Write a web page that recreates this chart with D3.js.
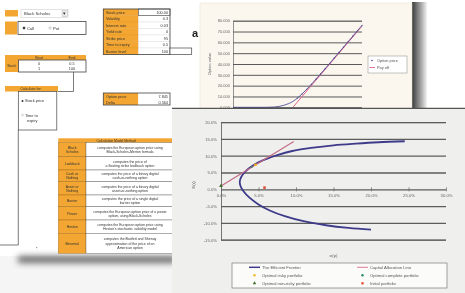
<!DOCTYPE html>
<html>
<head>
<meta charset="utf-8">
<script src="https://cdn.jsdelivr.net/npm/d3@7"></script>
<style>
html, body { margin: 0; padding: 0; background: #f5f5f5; }
svg { display: block; font-family: "Liberation Sans", Arial, sans-serif; }
</style>
</head>
<body>
<svg id="chart" width="465" height="293"></svg>
<script>
// ---- spreadsheet (back sheet) ----
var modelChoice = 'Black Scholes'
var optionTypes = ['Call', 'Put']
var rangeHeader = ['Start', 'End']
var rangeRowLabel = 'Stock'
var rangeStart = ['0', '1']
var rangeEnd = ['0.5', '100']
var calcForOptions = ['Stock price', 'Time to', 'expiry']
var paramLabels = ['Stock price', 'Volatility', 'Interest rate', 'Yield rate', 'Strike price', 'Time to expiry', 'Barrier level']
var paramValues = ['100.00', '0.3', '0.03', '0', '95', '0.5', '100']
var resultLabels = ['Option price', 'Delta']
var resultValues = ['7.845', '0.564']
var modelNames = [['Black', 'Scholes'], ['Lookback'], ['Cash or', 'Nothing'], ['Asset or', 'Nothing'], ['Barrier'], ['Power'], ['Heston'], ['Binomial']]
var modelDescriptions = [
    ['computes the European option price using', 'Black-Scholes-Merton formula'],
    ['computes the price of', 'a floating strike lookback option'],
    ['computes the price of a binary digital', 'cash-or-nothing option'],
    ['computes the price of a binary digital', 'asset-or-nothing option'],
    ['computes the price of a single digital', 'barrier option'],
    ['computes the European option price of a power', 'option, using Black-Scholes'],
    ['computes the European option price using', "Heston's stochastic volatility model"],
    ['computes the Bartlett and Shenoy', 'approximation of the price of an', 'American option']
]

// ---- top chart: option value vs stock price ----
var stockPrice = [0, 5, 10, 15, 20, 25, 30, 35, 40, 45, 50, 55, 60, 65, 70, 75, 80, 85, 90, 95, 100, 105, 110, 115, 120, 125, 130, 135, 140]
var optionPrice = [0, 0, 0, 0, 0, 0, 0, 0, 0.1, 0.3, 0.8, 1.8, 3.3, 5.4, 8.6, 12.4, 16.6, 21.2, 26.0, 30.8, 35.7, 40.7, 45.7, 50.7, 55.7, 60.7, 65.7, 70.7, 75.7]
var payoffStock = [65, 140]
var payoffValue = [0, 75]
var topTicks = [0, 10, 20, 30, 40, 50, 60, 70, 80]
var topLegend = ['Option price', 'Pay off']

// ---- front chart: efficient frontier ----
var frontierSd = [24.5, 21, 18, 15, 12, 9.5, 7.5, 6, 4.7, 3.7, 3.0, 2.6, 2.5, 2.6, 3.0, 3.8, 5.0, 6.5, 8.5, 11, 14, 17, 20]
var frontierRet = [14.3, 14.0, 13.6, 13.1, 12.3, 11.4, 10.2, 9.0, 7.7, 6.2, 4.7, 3.2, 2.2, 1.0, -0.6, -2.5, -4.5, -6.3, -8.0, -9.5, -10.7, -11.5, -12.0]
var calSd = [0, 9.7]
var calRet = [1.0, 14.2]
var portfolioNames = ['Optimal risky portfolio', 'Optimal complete portfolio', 'Optimal non-risky portfolio', 'Initial portfolio']
var portfolioSd = [4.6, 4.1, 0, 5.8]
var portfolioRet = [7.3, 6.6, 1.0, 0.5]
var sdTicks = [0, 5, 10, 15, 20, 25, 30]
var retTicks = [-15, -10, -5, 0, 5, 10, 15, 20]
var seriesNames = ['The Efficient Frontier', 'Capital Allocation Line']

var ORANGE = '#f3a631'
var svg = d3.select('#chart')
var defs = svg.append('defs')

defs.append('filter').attr('id', 'soft')
    .append('feGaussianBlur').attr('stdDeviation', 0.35)
defs.append('filter').attr('id', 'shadowBlur')
    .attr('x', '-20%').attr('y', '-100%').attr('width', '140%').attr('height', '300%')
    .append('feGaussianBlur').attr('stdDeviation', 3)

var rightShade = defs.append('linearGradient').attr('id', 'rightShade')
rightShade.append('stop').attr('offset', '0%').attr('stop-color', '#3a3a3a')
rightShade.append('stop').attr('offset', '45%').attr('stop-color', '#8a8a8a')
rightShade.append('stop').attr('offset', '100%').attr('stop-color', '#f3f3f3')

var root = svg.append('g').attr('filter', 'url(#soft)')

// ================= back sheet =================
root.append('rect').attr('x', 0).attr('y', 0).attr('width', 465).attr('height', 256).attr('fill', '#ffffff')
root.append('rect').attr('x', 18).attr('y', 256).attr('width', 158).attr('height', 7)
    .attr('fill', '#6a6a6a').attr('filter', 'url(#shadowBlur)')

var sheet = root.append('g').style('font-size', '4.2px').style('fill', '#333')

function cell(x, y, w, h, fill, stroke, sw) {
    return sheet.append('rect').attr('x', x).attr('y', y).attr('width', w).attr('height', h)
        .attr('fill', fill).attr('stroke', stroke || 'none').attr('stroke-width', sw || 0)
}
function label(x, y, t, anchor, size) {
    return sheet.append('text').attr('x', x).attr('y', y).text(t)
        .attr('text-anchor', anchor || 'start').style('font-size', (size || 4.2) + 'px')
}

// model dropdown
cell(5, 10, 13, 6.5, ORANGE)
cell(21, 9.5, 47, 8, '#fff', '#c8c8c8', 0.5)
label(24, 15.2, modelChoice)
cell(62, 10.5, 5.5, 6, '#eee', '#aaa', 0.4)
label(64.7, 15, '▾', 'middle', 4.5)

// call / put radio
cell(5, 21.5, 12, 13, ORANGE)
cell(18, 21.5, 68, 13, '#fff', '#444', 0.8)
optionTypes.forEach((t, i) => {
    sheet.append('circle').attr('cx', 24 + i * 26).attr('cy', 28).attr('r', 1.2)
        .attr('fill', i === 0 ? '#333' : '#fff').attr('stroke', '#666').attr('stroke-width', 0.3)
    label(27 + i * 26, 29.5, t)
})

// range table
cell(5, 55, 81, 5, ORANGE)
label(39, 59, rangeHeader[0], 'middle', 3.8)
label(72, 59, rangeHeader[1], 'middle', 3.8)
cell(5, 60, 13.5, 12, ORANGE)
label(11.7, 66.5, rangeRowLabel, 'middle', 3.6)
cell(18.5, 60, 67.5, 12, '#fff', '#444', 0.8)
rangeStart.forEach((v, i) => {
    label(39, 64.5 + i * 5, v, 'middle', 3.8)
    label(72, 64.5 + i * 5, rangeEnd[i], 'middle', 3.8)
})
sheet.append('path').attr('d', 'M73.5,72V91.5H58').attr('fill', 'none').attr('stroke', '#444').attr('stroke-width', 0.7)

// calculate-for box
cell(5, 86, 53, 5.5, ORANGE)
label(31, 90.2, 'Calculate for:', 'middle', 3.6)
cell(18.3, 91.5, 38.5, 38.5, '#fff', '#444', 0.7)
sheet.append('circle').attr('cx', 22.5).attr('cy', 101).attr('r', 1).attr('fill', '#333')
label(25, 102.3, calcForOptions[0], 'start', 3.9)
sheet.append('circle').attr('cx', 22.5).attr('cy', 115).attr('r', 1).attr('fill', '#fff').attr('stroke', '#888').attr('stroke-width', 0.3)
label(25, 116.5, calcForOptions[1], 'start', 3.9)
label(27, 122, calcForOptions[2], 'start', 3.9)
sheet.append('path').attr('d', 'M18.3,130V245H0').attr('fill', 'none').attr('stroke', '#444').attr('stroke-width', 0.7)
label(36.7, 249.5, '*', 'middle', 4)

// parameter table
var rowH = 6.5
paramLabels.forEach((t, i) => {
    cell(103.3, 9 + i * rowH, 35, rowH, ORANGE, '#d88a1a', 0.2)
    cell(138.3, 9 + i * rowH, 31.7, rowH, '#fff', '#bbb', 0.2)
    label(106, 13.8 + i * rowH, t, 'start', 3.8)
    label(168, 13.8 + i * rowH, paramValues[i], 'end', 3.8)
})
cell(103.3, 9, 66.7, rowH * paramLabels.length, 'none', '#444', 0.8)
cell(138.3, 9, 31.7, rowH, 'none', '#444', 0.6)
cell(170, 9 + rowH * 6, 21.7, rowH, '#fff', '#444', 0.7)

// result table
resultLabels.forEach((t, i) => {
    cell(103.3, 93 + i * 6, 35, 6, ORANGE)
    cell(138.3, 93 + i * 6, 31.7, 6, '#fff')
    label(106, 97.5 + i * 6, t, 'start', 3.8)
    label(168, 97.5 + i * 6, resultValues[i], 'end', 3.8)
})
cell(103.3, 93, 66.7, 12, 'none', '#444', 0.8)

// model description table
var rowBounds = [142.7, 156.7, 170, 181.7, 195, 206.7, 220, 233.3, 253.3]
cell(58.3, 138.3, 116, 4.4, ORANGE)
label(116, 141.8, 'Calculation Model Method', 'middle', 3.4)
modelNames.forEach((names, i) => {
    var y0 = rowBounds[i], y1 = rowBounds[i + 1], mid = (y0 + y1) / 2
    cell(58.3, y0, 27.7, y1 - y0, ORANGE, '#9a6a20', 0.4)
    cell(86, y0, 88, y1 - y0, '#fff', '#555', 0.4)
    names.forEach((n, j) => label(72.2, mid + 1.4 + (j - (names.length - 1) / 2) * 4, n, 'middle', 3.5))
    var desc = modelDescriptions[i]
    desc.forEach((d, j) => label(130, mid + 1.3 + (j - (desc.length - 1) / 2) * 4.2, d, 'middle', 3.5))
})

// bold glyph partly hidden behind the top chart
label(192, 36.5, 'a', 'start', 11).style('font-weight', 'bold').style('fill', '#222')

// ================= middle: option value chart =================
var topG = root.append('g')
topG.append('rect').attr('x', 412).attr('y', 2).attr('width', 15).attr('height', 107).attr('fill', 'url(#rightShade)')
topG.append('rect').attr('x', 200).attr('y', 3).attr('width', 212).attr('height', 106)
    .attr('fill', '#fbf7ee').attr('stroke', '#e4ddcc').attr('stroke-width', 0.5)

var tx = d3.scaleLinear().domain([0, 140]).range([233, 362])
var ty = d3.scaleLinear().domain([0, 80]).range([107.3, 20.7])

var tAxis = topG.append('g').attr('transform', 'translate(233,0)')
    .call(d3.axisLeft(ty).tickValues(topTicks).tickSize(-129).tickPadding(3).tickFormat(d3.format('.3f')))
tAxis.select('.domain').attr('stroke', '#777').attr('stroke-width', 0.8)
tAxis.selectAll('.tick line').attr('stroke', '#5a5a5a').attr('stroke-width', 1)
tAxis.selectAll('.tick text').style('font-size', '4px').attr('fill', '#666')
    .style('font-family', '"Liberation Sans", Arial, sans-serif')

topG.append('text').attr('transform', 'translate(211,64) rotate(-90)')
    .attr('text-anchor', 'middle').style('font-size', '4px').attr('fill', '#666').text('Option value')

var payoffPts = payoffStock.map((s, i) => [s, payoffValue[i]])
topG.append('path').datum(payoffPts)
    .attr('d', d3.line().x(d => tx(d[0])).y(d => ty(d[1])))
    .attr('fill', 'none').attr('stroke', '#e0628c').attr('stroke-width', 1)

var optPts = stockPrice.map((s, i) => [s, optionPrice[i]])
topG.append('path').datum(optPts)
    .attr('d', d3.line().x(d => tx(d[0])).y(d => ty(d[1])).curve(d3.curveMonotoneX))
    .attr('fill', 'none').attr('stroke', '#3b3b8c').attr('stroke-width', 0.8)
topG.selectAll('.optdot').data(optPts.filter(d => d[0] >= 70)).enter()
    .append('circle').attr('class', 'optdot')
    .attr('cx', d => tx(d[0])).attr('cy', d => ty(d[1])).attr('r', 0.6).attr('fill', '#3b3b8c')

// top legend
topG.append('rect').attr('x', 368).attr('y', 56).attr('width', 39).attr('height', 17)
    .attr('fill', '#fff').attr('stroke', '#888').attr('stroke-width', 0.5)
topG.append('circle').attr('cx', 372).attr('cy', 60.5).attr('r', 0.8).attr('fill', '#3b3b8c')
topG.append('line').attr('x1', 369.5).attr('x2', 375).attr('y1', 67.5).attr('y2', 67.5)
    .attr('stroke', '#e0628c').attr('stroke-width', 0.9)
topLegend.forEach((t, i) => {
    topG.append('text').attr('x', 377).attr('y', 62 + i * 7).text(t)
        .style('font-size', '3.9px').attr('fill', '#555')
})

// ================= front: efficient frontier chart =================
var front = root.append('g')
front.append('rect').attr('x', 172).attr('y', 108).attr('width', 293).attr('height', 185).attr('fill', '#efefed')
front.append('line').attr('x1', 172).attr('x2', 465).attr('y1', 108.4).attr('y2', 108.4)
    .attr('stroke', '#555').attr('stroke-width', 1.3)

var fx = d3.scaleLinear().domain([0, 30]).range([221, 446])
var fy = d3.scaleLinear().domain([-15, 20]).range([239.7, 122.1])

var yAxis = front.append('g').attr('transform', 'translate(221,0)')
    .call(d3.axisLeft(fy).tickValues(retTicks).tickSize(-225).tickPadding(4)
        .tickFormat(d => d.toFixed(1) + '%'))
yAxis.select('.domain').attr('stroke', '#666').attr('stroke-width', 0.9)
yAxis.selectAll('.tick line').attr('stroke', '#5c5c5c').attr('stroke-width', 1.3)
yAxis.selectAll('.tick text').style('font-size', '4.2px').attr('fill', '#666')
    .style('font-family', '"Liberation Sans", Arial, sans-serif')

var xAxis = front.append('g').attr('transform', 'translate(0,' + fy(0) + ')')
    .call(d3.axisBottom(fx).tickValues(sdTicks).tickSize(2).tickPadding(3)
        .tickFormat(d => d.toFixed(1) + '%'))
xAxis.select('.domain').remove()
xAxis.selectAll('.tick line').attr('stroke', '#666').attr('stroke-width', 0.7).attr('y1', -2)
xAxis.selectAll('.tick text').style('font-size', '4.2px').attr('fill', '#666')
    .style('font-family', '"Liberation Sans", Arial, sans-serif')

front.append('text').attr('x', fx(15)).attr('y', 257).attr('text-anchor', 'middle')
    .style('font-size', '4.3px').attr('fill', '#666').text('σ(p)')
front.append('text').attr('transform', 'translate(195,185) rotate(-90)').attr('text-anchor', 'middle')
    .style('font-size', '4.3px').attr('fill', '#666').text('E(r)')

var frontierPts = frontierSd.map((s, i) => [s, frontierRet[i]])
front.append('path').datum(frontierPts)
    .attr('d', d3.line().x(d => fx(d[0])).y(d => fy(d[1])).curve(d3.curveCatmullRom))
    .attr('fill', 'none').attr('stroke', '#3d3a8a').attr('stroke-width', 1.8)

var calPts = calSd.map((s, i) => [s, calRet[i]])
front.append('path').datum(calPts)
    .attr('d', d3.line().x(d => fx(d[0])).y(d => fy(d[1])))
    .attr('fill', 'none').attr('stroke', '#c46a86').attr('stroke-width', 1.2)

var markerColors = ['#f2b21e', '#2f8f6a', '#3a6a2a', '#e0402a']
var markerShapes = [d3.symbolSquare, d3.symbolCircle, d3.symbolTriangle, d3.symbolSquare]
portfolioNames.forEach((n, i) => {
    front.append('path')
        .attr('d', d3.symbol().type(markerShapes[i]).size(i === 1 ? 3 : 6)())
        .attr('transform', 'translate(' + fx(portfolioSd[i]) + ',' + fy(portfolioRet[i]) + ')')
        .attr('fill', markerColors[i])
})

// legend
var lg = front.append('g')
lg.append('rect').attr('x', 232).attr('y', 263).attr('width', 215).attr('height', 25)
    .attr('fill', '#fbfbfa').attr('stroke', '#666').attr('stroke-width', 0.6)
var colX = [249, 357], rowY = [267.3, 275.3, 283.3]
lg.append('line').attr('x1', colX[0]).attr('x2', colX[0] + 11).attr('y1', rowY[0]).attr('y2', rowY[0])
    .attr('stroke', '#3d3a8a').attr('stroke-width', 1.5)
lg.append('line').attr('x1', colX[1]).attr('x2', colX[1] + 11).attr('y1', rowY[0]).attr('y2', rowY[0])
    .attr('stroke', '#e27a9a').attr('stroke-width', 1)
seriesNames.forEach((t, i) => {
    lg.append('text').attr('x', colX[i] + 13).attr('y', rowY[0] + 1.5).text(t)
        .style('font-size', '4.2px').attr('fill', '#555')
})
portfolioNames.forEach((t, i) => {
    var cx = colX[i % 2], cy = rowY[1 + Math.floor(i / 2)]
    lg.append('path').attr('d', d3.symbol().type(markerShapes[i]).size(5)())
        .attr('transform', 'translate(' + (cx + 5.5) + ',' + cy + ')').attr('fill', markerColors[i])
    lg.append('text').attr('x', cx + 13).attr('y', cy + 1.5).text(t)
        .style('font-size', '4.2px').attr('fill', '#555')
})
</script>
</body>
</html>
